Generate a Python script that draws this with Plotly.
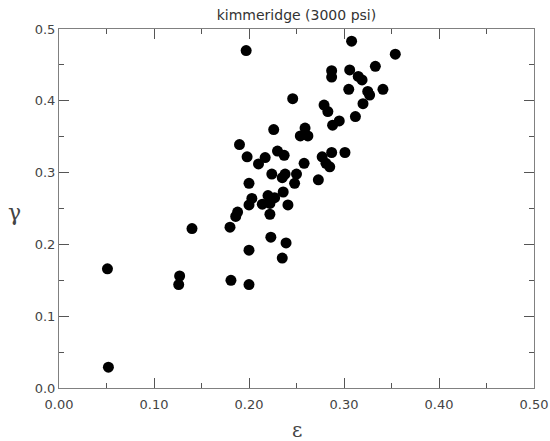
import plotly.graph_objects as go

epsilon = [0.052, 0.051, 0.127, 0.126, 0.140, 0.180, 0.181, 0.200, 0.200, 0.223,
           0.239, 0.235, 0.186, 0.188, 0.222, 0.200, 0.214, 0.222, 0.241, 0.203,
           0.220, 0.227, 0.236, 0.200, 0.224, 0.235, 0.238, 0.250, 0.248, 0.273,
           0.258, 0.237, 0.230, 0.210, 0.217, 0.198, 0.190, 0.226, 0.254, 0.262,
           0.259, 0.246, 0.197, 0.277, 0.287, 0.301, 0.281, 0.285, 0.288, 0.295,
           0.312, 0.279, 0.283, 0.320, 0.305, 0.325, 0.327, 0.341, 0.287, 0.287,
           0.306, 0.315, 0.319, 0.333, 0.354, 0.308]
gamma = [0.029, 0.166, 0.156, 0.144, 0.222, 0.224, 0.150, 0.192, 0.144, 0.210,
         0.202, 0.181, 0.239, 0.245, 0.242, 0.255, 0.256, 0.257, 0.255, 0.264,
         0.268, 0.265, 0.273, 0.285, 0.298, 0.293, 0.298, 0.298, 0.285, 0.290,
         0.313, 0.324, 0.330, 0.312, 0.321, 0.322, 0.339, 0.360, 0.351, 0.351,
         0.362, 0.403, 0.470, 0.322, 0.328, 0.328, 0.313, 0.308, 0.366, 0.372,
         0.378, 0.394, 0.385, 0.396, 0.416, 0.413, 0.408, 0.416, 0.442, 0.433,
         0.443, 0.434, 0.429, 0.448, 0.465, 0.483]

x_ticks = [0.0, 0.1, 0.2, 0.3, 0.4, 0.5]
y_ticks = [0.0, 0.1, 0.2, 0.3, 0.4, 0.5]
title_text = "kimmeridge (3000 psi)"

fig = go.Figure(go.Scatter(x=epsilon, y=gamma, mode="markers",
                           marker=dict(color="black", size=11, line=dict(width=0))))

axis_common = dict(
    range=[0, 0.5], showgrid=False, zeroline=False, automargin=False,
    showline=True, linecolor="#808080", linewidth=1, mirror="ticks",
    ticks="inside", ticklen=10, tickcolor="#555", tickwidth=1,
    minor=dict(dtick=0.05, ticks="inside", ticklen=5, tickcolor="#555", tickwidth=1),
    tickfont=dict(family="DejaVu Sans", size=13, color="#444"),
)

fig.update_xaxes(tickvals=x_ticks, ticktext=[f"{v:.2f}" for v in x_ticks],
                 ticklabelstandoff=4, **axis_common)
fig.update_yaxes(tickvals=y_ticks, ticktext=[f"{v:.1f}" for v in y_ticks], **axis_common)

fig.update_layout(
    width=550, height=441,
    margin=dict(l=59, r=16, t=29, b=53, autoexpand=False),
    paper_bgcolor="white", plot_bgcolor="white",
    showlegend=False,
    title=dict(text=title_text, x=0.539, xanchor="center", y=0.965, yanchor="middle",
               font=dict(family="DejaVu Sans", size=14, color="#333")),
    annotations=[
        dict(text="ε", xref="paper", yref="paper", x=0.5, y=-0.118,
             xanchor="center", yanchor="middle", showarrow=False,
             font=dict(family="DejaVu Serif", size=20, color="#444")),
        dict(text="γ", xref="paper", yref="paper", x=-0.093, y=0.49,
             xanchor="center", yanchor="middle", showarrow=False,
             font=dict(family="DejaVu Serif", size=22, color="#444")),
    ],
)

fig.write_html("out.html")
